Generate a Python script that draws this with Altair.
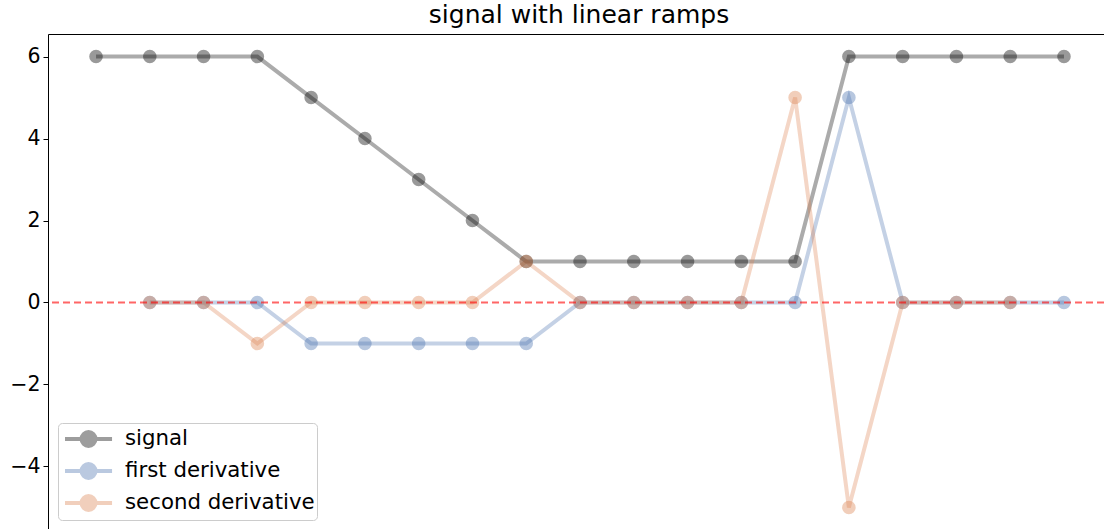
import altair as alt
import pandas as pd

# Signal with two linear ramps and its discrete derivatives
signal_x = list(range(19))
signal_y = [6, 6, 6, 6, 5, 4, 3, 2, 1, 1, 1, 1, 1, 1, 6, 6, 6, 6, 6]

first_x = list(range(1, 19))
first_y = [0, 0, 0, -1, -1, -1, -1, -1, 0, 0, 0, 0, 0, 5, 0, 0, 0, 0]

second_x = list(range(1, 18))
second_y = [0, 0, -1, 0, 0, 0, 0, 1, 0, 0, 0, 0, 5, -5, 0, 0, 0]

series_names = ["signal", "first derivative", "second derivative"]
series_colors = ["#000000", "#4c72b0", "#dd8452"]
y_ticks = [-4, -2, 0, 2, 4, 6]

frames = []
for name, xs, ys in zip(series_names, [signal_x, first_x, second_x],
                        [signal_y, first_y, second_y]):
    frames.append(pd.DataFrame({"x": xs, "y": ys, "series": name}))
df = pd.concat(frames, ignore_index=True)

x_scale = alt.Scale(domain=[-0.893, 18.744], nice=False, zero=False)
y_scale = alt.Scale(domain=[-5.55, 6.55], nice=False, zero=False)
color_scale = alt.Scale(domain=series_names, range=series_colors)

# line + marker glyph for the legend (short line with a marker in the middle)
legend_symbol = ("M-0.75,0L0.63,0M1.79,0L3.17,0"
                 "M1.79,0A0.58,0.58,0,1,1,0.63,0A0.58,0.58,0,1,1,1.79,0Z")

x_enc = alt.X("x:Q", scale=x_scale,
              axis=alt.Axis(orient="top", labels=False, ticks=False,
                            grid=False, title=None, domainColor="#000000",
                            domainWidth=1))
y_enc = alt.Y("y:Q", scale=y_scale,
              axis=alt.Axis(values=y_ticks, grid=False, title=None,
                            tickSize=5, tickColor="#000000",
                            domainColor="#000000", labelFontSize=20.5,
                            labelColor="#000000", labelPadding=3))
color_enc = alt.Color(
    "series:N", scale=color_scale, sort=series_names,
    legend=alt.Legend(title=None, orient="bottom-left", offset=10,
                      symbolType=legend_symbol, symbolSize=576,
                      symbolStrokeWidth=4, symbolOpacity=0.38,
                      labelFontSize=21.3, labelColor="#000000",
                      labelLimit=400,
                      fillColor="#ffffff", strokeColor="#cccccc",
                      cornerRadius=4, padding=2, rowPadding=2,
                      labelOffset=37))

lines = alt.Chart(df).mark_line(strokeWidth=4, opacity=0.33).encode(
    x=x_enc, y=y_enc, color=color_enc, detail="series:N")
points = alt.Chart(df).mark_circle(size=185, opacity=0.4).encode(
    x=x_enc, y=y_enc, color=alt.Color("series:N", scale=color_scale, legend=None))

zero_line = alt.Chart(pd.DataFrame({"y": [0]})).mark_rule(
    color="#ff0000", opacity=0.6, strokeWidth=2, strokeDash=[7, 4]
).encode(y=alt.Y("y:Q", scale=y_scale))

chart = alt.layer(lines, points, zero_line).properties(
    width=1056, height=496,
    title=alt.TitleParams("signal with linear ramps", fontSize=25,
                          fontWeight="normal", color="#000000", offset=6,
                          dx=3),
    autosize=alt.AutoSizeParams(type="none"),
    padding={"left": 48, "top": 34, "right": 0, "bottom": 0},
).configure(font="DejaVu Sans").configure_view(stroke=None)

chart.save("out.html", embed_options={"renderer": "svg", "actions": False})
